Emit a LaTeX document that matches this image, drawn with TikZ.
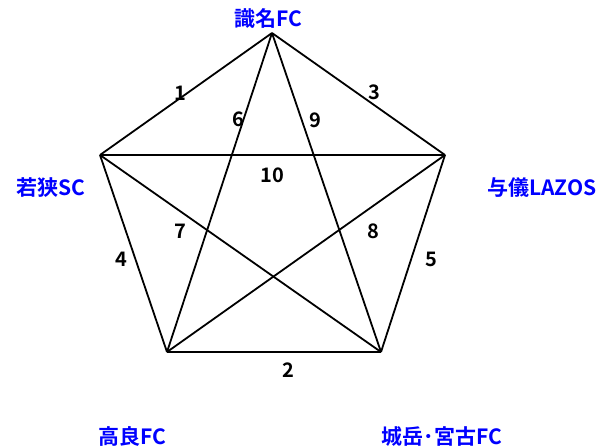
\documentclass[tikz,border=0pt]{standalone}
\usepackage{fontspec}
\newfontfamily\jpfont{Noto Sans CJK JP}[BoldFont={Noto Sans CJK JP Bold}]
\begin{document}
\begin{tikzpicture}[x=1pt,y=-1pt,
  edge/.style={line width=1.8pt,black},
  team/.style={font=\jpfont\bfseries\fontsize{21}{22}\selectfont,text=blue,inner sep=0pt},
  num/.style={font=\jpfont\bfseries\fontsize{20}{21}\selectfont,text=black,inner sep=0pt}]
\useasboundingbox[fill=white] (0,0) rectangle (602,447);
\coordinate (T) at (272,33);
\coordinate (L) at (100,155);
\coordinate (R) at (445,155);
\coordinate (BL) at (167,352);
\coordinate (BR) at (381,352);
\draw[edge] (T) -- (L);
\draw[edge] (T) -- (R);
\draw[edge] (L) -- (R);
\draw[edge] (L) -- (BL);
\draw[edge] (R) -- (BR);
\draw[edge] (BL) -- (BR);
\draw[edge] (T) -- (BL);
\draw[edge] (T) -- (BR);
\draw[edge] (L) -- (BR);
\draw[edge] (R) -- (BL);
\node[team] (tT) at (268,19) {識名FC};
\node[team] (tL) at (51,188) {若狭SC};
\node[team] (tR) at (542,188) {与儀LAZOS};
\node[team] (tBL) at (132,437) {高良FC};
\node[team] (tBR) at (442,437) {城岳･宮古FC};
\node[num] (n1) at (180,93) {1};
\node[num] (n3) at (374,92) {3};
\node[num] (n6) at (238,119) {6};
\node[num] (n9) at (315,120) {9};
\node[num] (n10) at (272,175) {10};
\node[num] (n7) at (180,231) {7};
\node[num] (n8) at (373,231) {8};
\node[num] (n4) at (121,259) {4};
\node[num] (n5) at (431,259) {5};
\node[num] (n2) at (288,370) {2};
\end{tikzpicture}
\end{document}
